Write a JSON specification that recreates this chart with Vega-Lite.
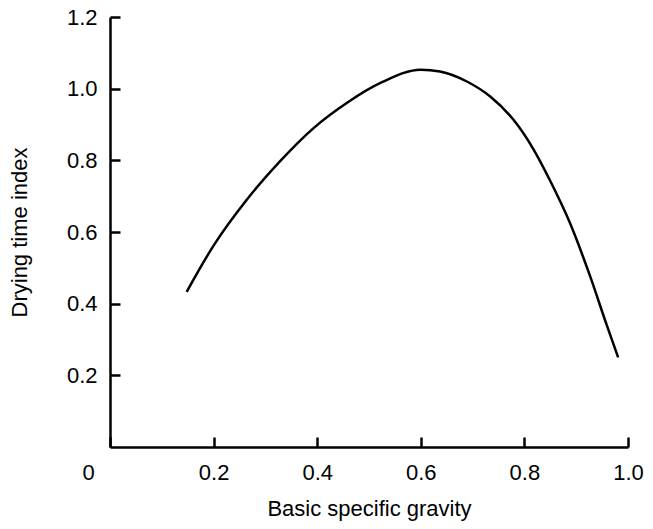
{
  "$schema": "https://vega.github.io/schema/vega-lite/v6.json",
  "autosize": {"type": "none"},
  "padding": {"left": 110, "top": 17, "right": 25, "bottom": 82},
  "width": 518,
  "height": 430,
  "background": "white",
  "config": {
    "view": {"stroke": null},
    "font": "Liberation Sans",
    "axis": {
      "domainColor": "black",
      "domainWidth": 2.5,
      "tickColor": "black",
      "tickWidth": 2.5,
      "tickSize": -10,
      "grid": false,
      "labelColor": "black",
      "labelFont": "Liberation Sans",
      "labelFontSize": 22,
      "titleColor": "black",
      "titleFont": "Liberation Sans",
      "titleFontSize": 22,
      "titleFontWeight": "normal"
    }
  },
  "data": {
    "values": [
      {"gravity": 0.148, "index": 0.433},
      {"gravity": 0.199, "index": 0.56},
      {"gravity": 0.264, "index": 0.69},
      {"gravity": 0.328, "index": 0.797},
      {"gravity": 0.393, "index": 0.89},
      {"gravity": 0.457, "index": 0.96},
      {"gravity": 0.525, "index": 1.018},
      {"gravity": 0.6, "index": 1.053},
      {"gravity": 0.637, "index": 1.048},
      {"gravity": 0.689, "index": 1.02},
      {"gravity": 0.734, "index": 0.978},
      {"gravity": 0.779, "index": 0.913},
      {"gravity": 0.817, "index": 0.832},
      {"gravity": 0.849, "index": 0.745},
      {"gravity": 0.888, "index": 0.625},
      {"gravity": 0.927, "index": 0.476},
      {"gravity": 0.959, "index": 0.34},
      {"gravity": 0.981, "index": 0.25}
    ]
  },
  "mark": {"type": "line", "color": "black", "strokeWidth": 2.5, "interpolate": "monotone"},
  "encoding": {
    "x": {
      "field": "gravity",
      "type": "quantitative",
      "scale": {"domain": [0, 1.0], "nice": false, "zero": false},
      "axis": {
        "title": "Basic specific gravity",
        "values": [0, 0.2, 0.4, 0.6, 0.8, 1.0],
        "labelExpr": "datum.value == 0 ? '0' : format(datum.value, '.1f')",
        "labelOffset": {"condition": {"test": "datum.value == 0", "value": -22}, "value": 0},
        "labelPadding": 25,
        "labelFlush": false,
        "titlePadding": 15
      }
    },
    "y": {
      "field": "index",
      "type": "quantitative",
      "scale": {"domain": [0, 1.2], "nice": false, "zero": false},
      "axis": {
        "title": "Drying time index",
        "values": [0.2, 0.4, 0.6, 0.8, 1.0, 1.2],
        "format": ".1f",
        "labelPadding": 23,
        "labelFlush": false,
        "titlePadding": 35
      }
    }
  }
}
